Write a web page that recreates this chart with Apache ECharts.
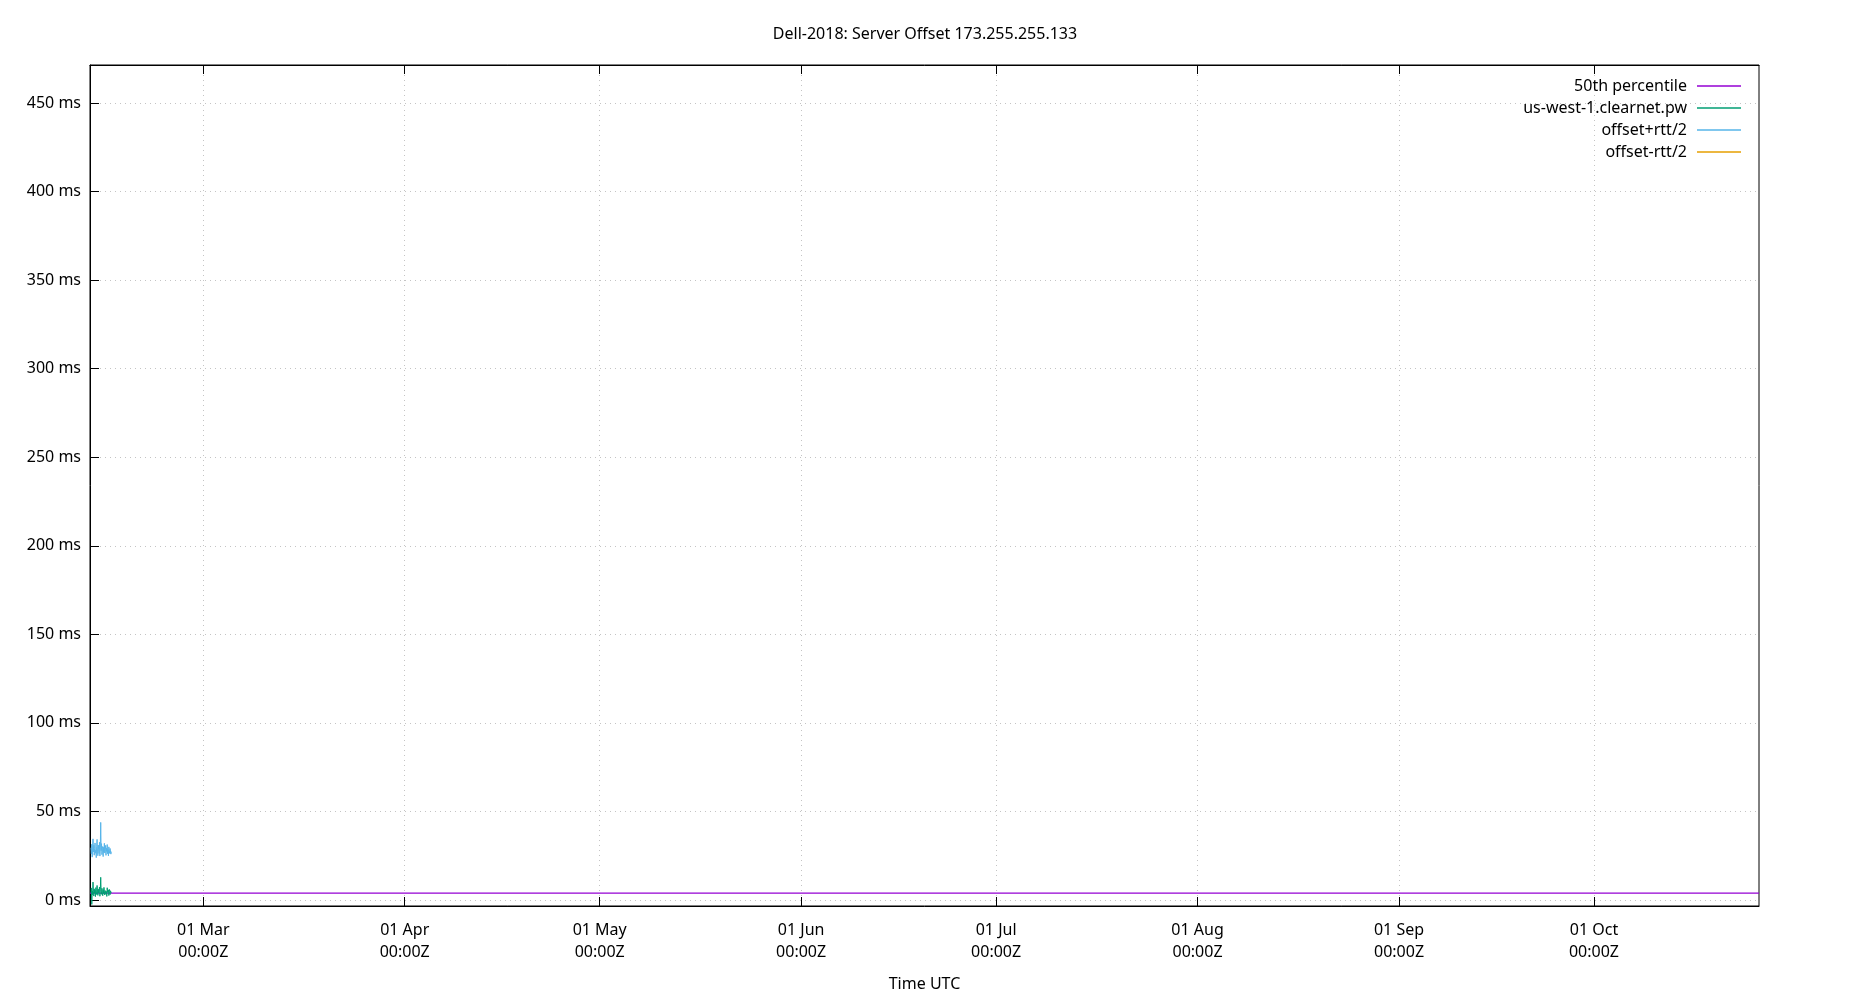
<!DOCTYPE html>
<html>
<head>
<meta charset="utf-8">
<script src="https://cdn.jsdelivr.net/npm/echarts@6/dist/echarts.min.js"></script>
<style>
html,body{margin:0;padding:0;background:#fff;}
#chart{width:1850px;height:1000px;}
</style>
</head>
<body>
<div id="chart"></div>
<script>
const chartTitle = 'Dell-2018: Server Offset 173.255.255.133';
const seriesNames = ['50th percentile', 'us-west-1.clearnet.pw', 'offset+rtt/2', 'offset-rtt/2'];
const xRange = ['2018-02-11T13:40:00Z', '2018-10-26T09:30:00Z'];
const yRange = [-3.4, 471.5];
const monthTicks = ['2018-03-01T00:00:00Z','2018-04-01T00:00:00Z','2018-05-01T00:00:00Z','2018-06-01T00:00:00Z',
  '2018-07-01T00:00:00Z','2018-08-01T00:00:00Z','2018-09-01T00:00:00Z','2018-10-01T00:00:00Z'];
const yTicks = [0, 50, 100, 150, 200, 250, 300, 350, 400, 450];

const sampleTimes = [
  '2018-02-11T17:15Z','2018-02-11T18:45Z','2018-02-11T20:15Z','2018-02-11T21:45Z','2018-02-11T23:15Z',
  '2018-02-12T00:45Z','2018-02-12T02:15Z','2018-02-12T03:45Z','2018-02-12T05:15Z','2018-02-12T06:45Z',
  '2018-02-12T08:15Z','2018-02-12T09:45Z','2018-02-12T11:15Z','2018-02-12T12:45Z','2018-02-12T14:15Z',
  '2018-02-12T15:45Z','2018-02-12T17:15Z','2018-02-12T18:45Z','2018-02-12T20:15Z','2018-02-12T21:45Z',
  '2018-02-12T23:15Z','2018-02-13T00:45Z','2018-02-13T02:15Z','2018-02-13T03:45Z','2018-02-13T05:15Z',
  '2018-02-13T06:45Z','2018-02-13T08:15Z','2018-02-13T09:45Z','2018-02-13T11:15Z','2018-02-13T12:45Z',
  '2018-02-13T14:15Z','2018-02-13T15:45Z','2018-02-13T17:15Z','2018-02-13T18:45Z','2018-02-13T20:15Z',
  '2018-02-13T21:45Z','2018-02-13T23:15Z','2018-02-14T00:45Z','2018-02-14T02:15Z','2018-02-14T03:45Z',
  '2018-02-14T05:15Z','2018-02-14T06:45Z','2018-02-14T08:15Z','2018-02-14T09:45Z','2018-02-14T11:15Z',
  '2018-02-14T12:45Z','2018-02-14T14:15Z','2018-02-14T15:45Z','2018-02-14T17:15Z','2018-02-14T18:45Z',
  '2018-02-14T20:15Z'
];
const offsetValues = [4.2, 6.8, -2.5, 5.1, 3.0, 10.1, 4.6, 2.2, 6.3, 3.8, 5.5, 1.9, 7.0, 4.4, 3.1, 8.2, 5.0, 2.6, 6.1, 4.0,
  3.4, 7.3, 2.1, 5.8, 12.8, 4.9, 3.2, 6.6, 4.1, 2.4, 5.9, 3.7, 7.1, 4.5, 2.8, 5.3, 6.4, 3.3, 4.8, 2.0,
  6.9, 4.3, 3.6, 5.6, 2.5, 6.0, 4.7, 3.0, 5.2, 4.4, 3.9];
const offsetPlusValues = [29.5, 26.0, 31.5, 24.2, 28.8, 34.5, 27.1, 30.9, 25.3, 29.0, 32.2, 26.4, 28.1, 23.9, 30.4, 34.2, 27.6, 25.0, 31.0, 28.3,
  26.2, 32.6, 24.8, 29.4, 43.8, 27.9, 31.8, 25.6, 28.9, 30.2, 24.5, 29.7, 27.0, 32.0, 26.5, 28.6, 30.8, 25.2, 29.2, 27.4,
  31.3, 26.1, 28.4, 24.9, 30.0, 27.7, 26.3, 29.1, 28.0, 25.9, 27.3];
const offsetMinusValues = [-21.1, -12.4, -36.5, -14.0, -22.8, -14.3, -17.9, -26.5, -12.7, -21.4, -21.2, -22.6, -14.1, -15.1, -24.2, -17.8, -17.6, -19.8, -18.8, -20.3,
  -19.4, -18.0, -20.6, -17.8, -18.2, -18.1, -25.4, -12.4, -20.7, -25.4, -12.7, -22.3, -12.8, -23.0, -20.9, -18.0, -18.0, -18.6, -19.6, -23.4,
  -17.5, -17.5, -21.2, -13.7, -25.0, -15.7, -16.9, -23.1, -17.6, -17.1, -19.5];
const percentileTimes = ['2018-02-11T13:40:00Z', '2018-10-26T09:30:00Z'];
const percentileValues = [3.9, 3.9];

const colors = ['#9400d3', '#009e73', '#56b4e9', '#e69f00'];
const FONT = 'Noto Sans';
const FS = 16;
const MONTHS = ['Jan','Feb','Mar','Apr','May','Jun','Jul','Aug','Sep','Oct','Nov','Dec'];

function pairs(ts, vs) { return ts.map((t, i) => [Date.parse(t), vs[i]]); }
const tickMs = monthTicks.map(s => Date.parse(s));
const xMin = Date.parse(xRange[0]), xMax = Date.parse(xRange[1]);
const gridLine = { show: true, lineStyle: { color: '#c4c4c4', width: 1, type: [1, 4] } };

const chart = echarts.init(document.getElementById('chart'), null, { renderer: 'canvas' });
chart.setOption({
  animation: false,
  backgroundColor: '#fff',
  color: colors,
  textStyle: { fontFamily: FONT },
  title: {
    text: chartTitle, left: 'center', top: 23, padding: 0,
    textStyle: { fontFamily: FONT, fontSize: FS, fontWeight: 'normal', color: '#000', lineHeight: 22 }
  },
  legend: {
    orient: 'vertical', right: 109, top: 75, align: 'right', padding: 0, itemGap: 0,
    icon: 'rect', itemWidth: 44, itemHeight: 1.5,
    textStyle: { fontFamily: FONT, fontSize: FS, color: '#000', lineHeight: 22, padding: [0, 5, 0, 0] },
    data: seriesNames
  },
  grid: { left: 90, right: 91, top: 65, bottom: 93, show: true, borderColor: '#000', borderWidth: 1, backgroundColor: 'transparent' },
  xAxis: [{
    type: 'value', min: xMin, max: xMax, position: 'bottom',
    name: 'Time UTC', nameLocation: 'middle', nameGap: 67,
    nameTextStyle: { fontFamily: FONT, fontSize: FS, color: '#000', lineHeight: 22 },
    axisLine: { show: true, onZero: false, lineStyle: { color: '#000', width: 1 } },
    axisTick: { show: true, inside: true, length: 9, customValues: tickMs, lineStyle: { color: '#000', width: 1 } },
    axisLabel: {
      show: true, margin: 13, customValues: tickMs, color: '#000', fontFamily: FONT, fontSize: FS, lineHeight: 22,
      formatter: function (v) {
        const d = new Date(v);
        const dd = String(d.getUTCDate()).padStart(2, '0');
        return dd + ' ' + MONTHS[d.getUTCMonth()] + '\n00:00Z';
      }
    },
    splitLine: gridLine
  }, {
    type: 'value', min: xMin, max: xMax, position: 'top',
    axisLine: { show: true, onZero: false, lineStyle: { color: '#000', width: 1 } },
    axisTick: { show: true, inside: true, length: 9, customValues: tickMs, lineStyle: { color: '#000', width: 1 } },
    axisLabel: { show: false },
    splitLine: { show: false }
  }],
  yAxis: {
    type: 'value', min: yRange[0], max: yRange[1],
    axisLine: { show: true, onZero: false, lineStyle: { color: '#000', width: 1 } },
    axisTick: { show: true, inside: true, length: 9, customValues: yTicks, lineStyle: { color: '#000', width: 1 } },
    axisLabel: {
      show: true, margin: 9, customValues: yTicks, color: '#000', fontFamily: FONT, fontSize: FS,
      formatter: v => v + ' ms'
    },
    splitLine: gridLine
  },
  series: [
    { name: seriesNames[0], type: 'line', data: pairs(percentileTimes, percentileValues), showSymbol: false, symbol: 'none',
      lineStyle: { width: 1.2, color: colors[0] }, itemStyle: { color: colors[0] }, clip: true },
    { name: seriesNames[1], type: 'line', data: pairs(sampleTimes, offsetValues), showSymbol: false, symbol: 'none',
      lineStyle: { width: 1, color: colors[1] }, itemStyle: { color: colors[1] }, clip: true },
    { name: seriesNames[2], type: 'line', data: pairs(sampleTimes, offsetPlusValues), showSymbol: false, symbol: 'none',
      lineStyle: { width: 1, color: colors[2] }, itemStyle: { color: colors[2] }, clip: true },
    { name: seriesNames[3], type: 'line', data: pairs(sampleTimes, offsetMinusValues), showSymbol: false, symbol: 'none',
      lineStyle: { width: 1, color: colors[3] }, itemStyle: { color: colors[3] }, clip: true }
  ]
});
</script>
</body>
</html>
